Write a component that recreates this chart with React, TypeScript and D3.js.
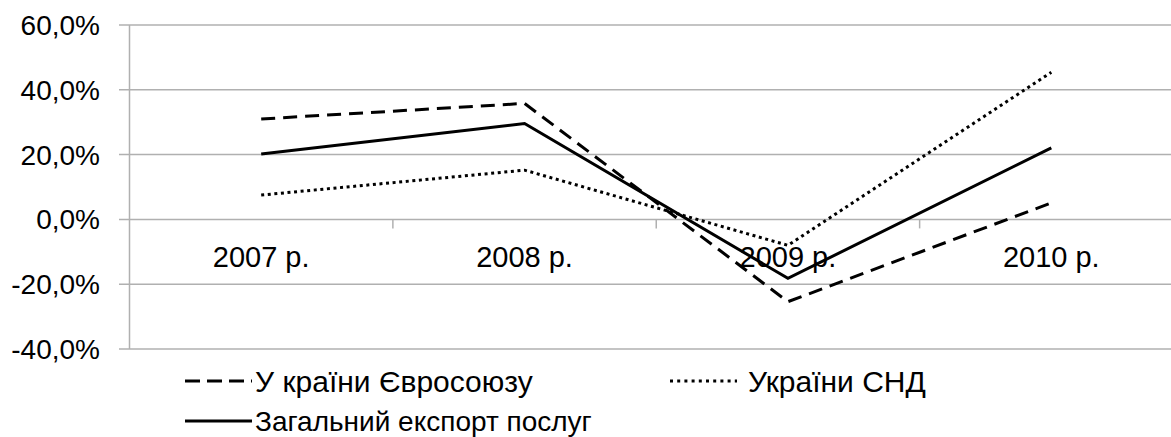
import React, { useEffect, useRef } from 'react';
import * as d3 from 'd3';

// chart data
const categories = ['2007 р.', '2008 р.', '2009 р.', '2010 р.'];
const euValues = [31.0, 35.8, -25.4, 5.1];
const cisValues = [7.5, 15.2, -8.0, 45.4];
const totalValues = [20.2, 29.6, -18.2, 22.1];
const yTicks = [-40, -20, 0, 20, 40, 60];

const seriesNames = ['У країни Євросоюзу', 'України СНД', 'Загальний експорт послуг'];

const App = () => {
  const ref = useRef<SVGSVGElement>(null);

  useEffect(() => {
    const width = 1171;
    const font = '"Liberation Sans", Arial, sans-serif';

    const svg = d3.select(ref.current);
    svg.selectAll('*').remove();

    // plot area runs past the right edge of the picture
    const x = d3.scaleBand().domain(categories).range([129.5, 1183]);
    const y = d3.scaleLinear().domain([-40, 60]).range([349, 25]);
    const cx = (c) => x(c) + x.bandwidth() / 2;

    // gridlines
    svg
      .append('g')
      .selectAll('line')
      .data(yTicks)
      .join('line')
      .attr('x1', 119)
      .attr('x2', width)
      .attr('y1', (d) => y(d))
      .attr('y2', (d) => y(d))
      .attr('stroke', '#b0b0b0')
      .attr('stroke-width', 1.5);

    // y axis line
    svg
      .append('line')
      .attr('x1', 129.5)
      .attr('x2', 129.5)
      .attr('y1', y(60))
      .attr('y2', y(-40))
      .attr('stroke', '#b0b0b0')
      .attr('stroke-width', 1.5);

    // category ticks on zero line
    svg
      .append('g')
      .selectAll('line')
      .data(categories.slice(1))
      .join('line')
      .attr('x1', (d) => x(d))
      .attr('x2', (d) => x(d))
      .attr('y1', y(0))
      .attr('y2', y(0) + 9)
      .attr('stroke', '#b0b0b0')
      .attr('stroke-width', 1.5);

    // y tick labels
    const fmt = (v) => v.toFixed(1).replace('.', ',') + '%';
    svg
      .append('g')
      .selectAll('text')
      .data(yTicks)
      .join('text')
      .attr('x', 100)
      .attr('y', (d) => y(d))
      .attr('dy', '0.36em')
      .attr('text-anchor', 'end')
      .attr('font-family', font)
      .attr('font-size', 28)
      .attr('fill', '#000')
      .text(fmt);

    // category labels
    svg
      .append('g')
      .selectAll('text')
      .data(categories)
      .join('text')
      .attr('x', (d) => cx(d))
      .attr('y', 267)
      .attr('text-anchor', 'middle')
      .attr('font-family', font)
      .attr('font-size', 29)
      .attr('fill', '#000')
      .text((d) => d);

    const styles = [
      { values: euValues, dash: '14,8' },
      { values: cisValues, dash: '3,3.6' },
      { values: totalValues, dash: null },
    ];

    const line = d3
      .line()
      .x((d, i) => cx(categories[i]))
      .y((d) => y(d));

    styles.forEach((s) => {
      svg
        .append('path')
        .datum(s.values)
        .attr('d', line)
        .attr('fill', 'none')
        .attr('stroke', '#000')
        .attr('stroke-width', 3)
        .attr('stroke-linejoin', 'miter')
        .attr('stroke-dasharray', s.dash);
    });

    // legend
    const legendPos = [
      { x: 185, y: 381, size: 30 },
      { x: 670, y: 381, size: 30 },
      { x: 185, y: 421, size: 28 },
    ];
    const lg = svg.append('g');
    seriesNames.forEach((name, i) => {
      const p = legendPos[i];
      lg.append('line')
        .attr('x1', p.x)
        .attr('x2', p.x + 67)
        .attr('y1', p.y)
        .attr('y2', p.y)
        .attr('stroke', '#000')
        .attr('stroke-width', 3)
        .attr('stroke-dasharray', i === 0 ? '15,7' : i === 1 ? '3,4.2' : null);
      lg.append('text')
        .attr('x', p.x + (i === 1 ? 78 : 70))
        .attr('y', p.y)
        .attr('dy', '0.36em')
        .attr('font-family', font)
        .attr('font-size', p.size)
        .attr('fill', '#000')
        .text(name);
    });
  }, []);

  return (
    <svg
      ref={ref}
      width={1171}
      height={437}
      style={{ position: 'absolute', left: 0, top: 0, background: '#fff' }}
    ></svg>
  );
};

export default App;
